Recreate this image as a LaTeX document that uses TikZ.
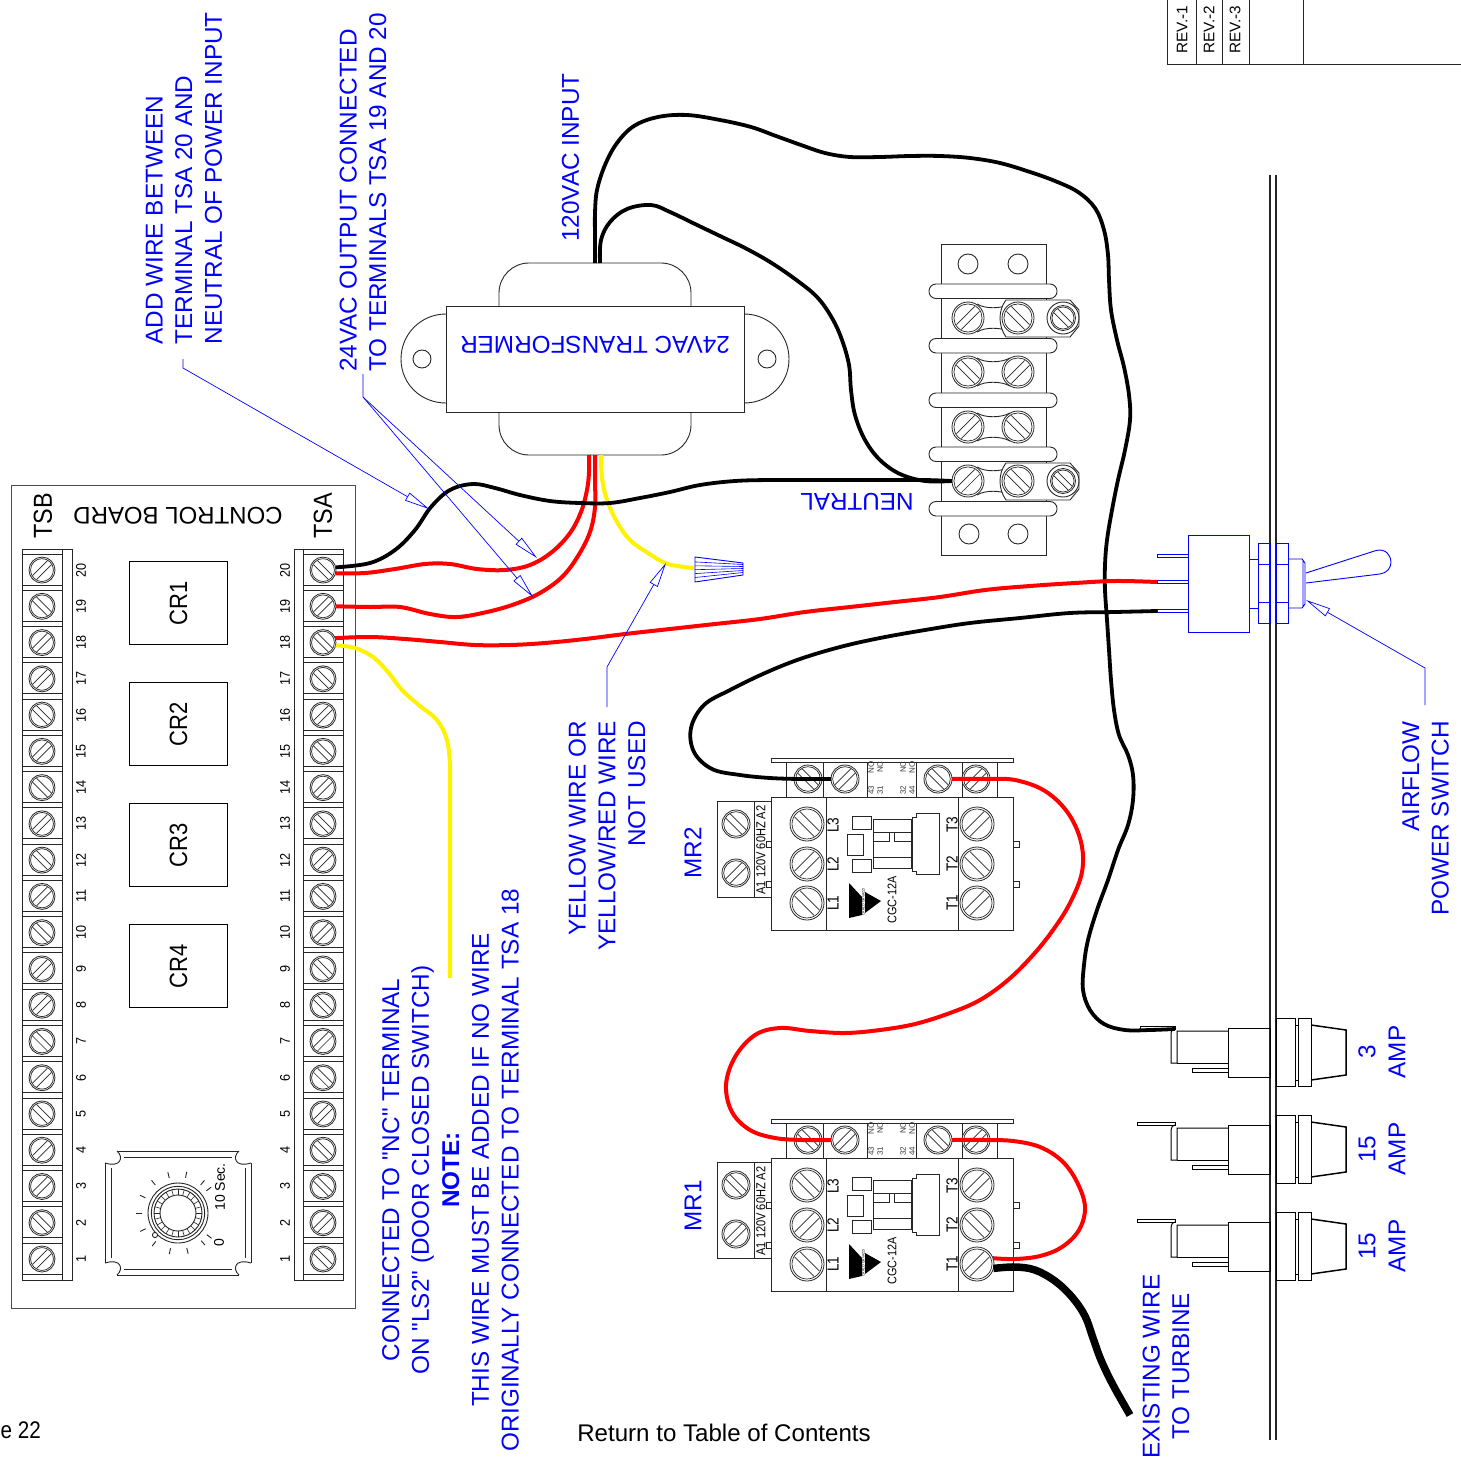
\documentclass[tikz,border=0pt]{standalone}
\usepackage{fontspec}
\setmainfont{Liberation Sans}[Ligatures=TeXOff]
\usetikzlibrary{arrows.meta}
\tikzset{
	part/.style={line width=0.9pt,black!85},
	screw/.style={circle,draw=black!85,line width=0.8pt,fill=white,inner sep=0pt,outer sep=0pt},
	bluelbl/.style={text=blue,inner sep=0pt,rotate=90,font=\fontsize{24.3}{29.7}\selectfont},
	blacklbl/.style={text=black,inner sep=0pt,rotate=90,font=\fontsize{#1}{#1}\selectfont},
	wireblack/.style={line width=3.8pt,black},
	wirered/.style={line width=4pt,red},
	wireyellow/.style={line width=4pt,yellow},
	leader/.style={blue,line width=0.7pt,-{Triangle[open,length=25pt,width=9pt]}},
	bluepart/.style={blue,line width=0.9pt}
}
\newcommand{\cond}[2]{\scalebox{#1}[1]{#2}}
\newcommand{\screwhead}[4]{
	\node[screw,minimum size=2*#3pt] (#1) at #2 {};
	\begin{scope}[shift={#2},rotate=#4]
		\draw[line width=0.7pt,black!85] (0,0) circle ({0.88*#3});
		\draw[line width=0.7pt,black!85] ({-0.8*#3},{0.22*#3}) -- ({0.8*#3},{0.22*#3});
		\draw[line width=0.7pt,black!85] ({-0.8*#3},{-0.22*#3}) -- ({0.8*#3},{-0.22*#3});
	\end{scope}
}
\begin{document}
\begin{tikzpicture}[x=1pt,y=-1pt]
	\useasboundingbox (0,0) rectangle (1461,1458);

	\draw[part] (1167,0) -- (1167,64) -- (1461,64);
	\foreach \x in {1196,1222,1249,1303} {
		\draw[part] (\x,0) -- (\x,64);
	}
	\foreach \x/\rev in {1182/1,1209/2,1235/3} {
		\node[blacklbl=15.3,anchor=west] (rev\rev) at (\x,54) {REV.-\rev};
	}

	\draw[line width=1pt,black!70] (11,485) rectangle (355,1308);
	\node[text=black,inner sep=0pt,rotate=180,font=\fontsize{24}{24}\selectfont] (board) at (178,516) {CONTROL BOARD};
	\node[blacklbl=26] (tsb) at (43,516) {\cond{.9}{TSB}};
	\node[blacklbl=26] (tsa) at (323,516) {\cond{.9}{TSA}};
	\draw[part] (22,549) rectangle (72,1280) (62,549) -- (62,1280);
	\draw[part] (294,549) rectangle (343,1280) (303,549) -- (303,1280);
	\foreach \n/\angb/\anga in {1/45/-45,2/-45/45,3/45/-45,4/45/-45,5/-45/45,6/45/-45,7/-45/45,8/45/-45,9/45/-45,10/-45/45,11/45/-45,12/-45/45,13/45/-45,14/-45/45,15/45/-45,16/-45/45,17/45/-45,18/45/-45,19/-45/45,20/45/-45} {
		\pgfmathsetmacro{\yy}{1259-(\n-1)*36.26}
		\draw[part] (22,\yy-16) -- (62,\yy-16) (22,\yy+15) -- (62,\yy+15);
		\draw[part] (303,\yy-16) -- (343,\yy-16) (303,\yy+15) -- (343,\yy+15);
		\screwhead{tsb\n}{(42,\yy)}{13}{\angb}
		\screwhead{tsa\n}{(323,\yy)}{13}{\anga}
		\node[blacklbl=14] (numb\n) at (81,\yy) {\cond{.9}{\n}};
		\node[blacklbl=14] (numa\n) at (285,\yy) {\cond{.9}{\n}};
	}
	\foreach \n/\yy in {1/561,2/682,3/803,4/924} {
		\node[draw=black,line width=1.2pt,minimum width=98pt,minimum height=83pt,inner sep=0pt,anchor=north west] (cr\n) at (129,\yy) {};
		\node[blacklbl=25] (crlbl\n) at (cr\n) {\cond{.88}{CR\n}};
	}

	\begin{scope}[shift={(178,1213)}]
		\foreach \sx/\sy in {1/1,-1/1,1/-1,-1/-1} {
			\begin{scope}[xscale=\sx,yscale=\sy]
				\draw[part] (61,-62) .. controls (54,-56) and (57,-45) .. (73,-50);
				\draw[part] (0,-62) -- (61,-62) (0,-56) -- (54,-56);
				\draw[part] (73,0) -- (73,-50) (67,0) -- (67,-45);
			\end{scope}
		}
		\draw[part] (0,0) circle (30) (0,0) circle (26.7) (0,0) circle (24) (0,0) circle (18);
		\foreach \a in {0,15,...,345} {
			\draw[line width=0.6pt,black!85] (\a:18) -- (\a:24);
		}
		\foreach \a in {38,51,78,104,129,155,180,206,232,258,284,310,323} {
			\draw[part] (-\a:36) -- (-\a:42);
		}
		\draw[part,fill=white] (-23,22) circle (2.6);
	\end{scope}
	\node[blacklbl=14] (tensec) at (220,1187) {10 Sec.};
	\node[blacklbl=14] (zero) at (219,1243) {0};

	\draw[part,rounded corners=30pt] (499,306) -- (499,263) -- (691,263) -- (691,306);
	\draw[part,rounded corners=30pt] (499,412) -- (499,455) -- (691,455) -- (691,412);
	\draw[part] (744,314) .. controls (769,314) and (789,334) .. (789,359) .. controls (789,384) and (769,403) .. (744,403);
	\draw[part] (446,314) .. controls (421,314) and (401,334) .. (401,359) .. controls (401,384) and (421,403) .. (446,403);
	\node[draw=black!85,line width=0.9pt,minimum width=298pt,minimum height=106pt,inner sep=0pt] (xfmr) at (595,359) {};
	\node[text=blue,inner sep=0pt,rotate=180,font=\fontsize{24.3}{24.3}\selectfont] (xfmrlbl) at (595,345) {24VAC TRANSFORMER};
	\draw[part] (422,359) circle (9) (767,359) circle (9);
	\coordinate (linea) at (595,263);
	\coordinate (lineb) at (600,263);
	\coordinate (seca) at (589,455);
	\coordinate (secb) at (595,455);
	\coordinate (secc) at (601,455);

	\draw[part] (941,244) rectangle (1046,555);
	\draw[part] (968,264) circle (10) (1018,264) circle (10) (969,534) circle (10) (1018,534) circle (10);
	\foreach \r/\yy/\anga/\angb in {1/318/45/-45,2/372/-45/45,3/427/45/-45,4/481/45/-45} {
		\draw[part] (977,\yy-14) .. controls (985,\yy-9) and (1001,\yy-9) .. (1010,\yy-14);
		\draw[part] (977,\yy+14) .. controls (985,\yy+9) and (1001,\yy+9) .. (1010,\yy+14);
		\screwhead{term\r a}{(968,\yy)}{16}{\anga}
		\ifnum\r=2\else\ifnum\r=3\else
			\draw[part,fill=white] (1006,\yy-18) -- (1070,\yy-18) -- (1079,\yy-8) -- (1079,\yy+8) -- (1070,\yy+19) -- (1006,\yy+19) .. controls (998,\yy+8) and (998,\yy-8) .. cycle;
			\draw[part] (1063,\yy) circle (16);
			\screwhead{lug\r}{(1063,\yy)}{12.5}{-45}
		\fi\fi
		\screwhead{term\r b}{(1018,\yy)}{16}{\angb}
	}
	\foreach \yy in {284,338.5,393,447,501.5} {
		\draw[part,fill=white,rounded corners=7pt] (929,\yy) rectangle (1057,\yy+14.5);
	}
	\node[text=blue,inner sep=0pt,rotate=180,font=\fontsize{24.3}{24.3}\selectfont] (neutral) at (857,502) {NEUTRAL};

	\foreach \mr/\dy in {MR2/0,MR1/361} {
		\begin{scope}[shift={(0,\dy)}]
			\draw[part,fill=white] (771,758) rectangle (1013,762);
			\draw[part] (771,797) rectangle (1013,930);
			\draw[part] (826,797) -- (826,930) (958,797) -- (958,930);
			\foreach \x in {786,823,867,916,962,997} {
				\draw[part] (\x,762) -- (\x,797);
			}
			\draw[part] (771,801) -- (717,801) -- (717,897) -- (771,897) (754,801) -- (754,897);
			\foreach \yy in {841,881} {
				\draw[part] (766,\yy) rectangle (771,\yy+6);
				\draw[part] (1013,\yy) rectangle (1019,\yy+6);
			}
			\screwhead{\mr ca}{(736,824)}{14}{-45}
			\screwhead{\mr cb}{(736,873)}{14}{45}
			\screwhead{\mr l3}{(807,824)}{17}{-45}
			\screwhead{\mr l2}{(807,864)}{17}{45}
			\screwhead{\mr l1}{(807,903)}{17}{-45}
			\screwhead{\mr t3}{(977,824)}{17}{45}
			\screwhead{\mr t2}{(977,864)}{17}{-45}
			\screwhead{\mr t1}{(977,903)}{17}{45}
			\screwhead{\mr aa}{(808,779)}{14}{-45}
			\screwhead{\mr ab}{(845,779)}{14}{45}
			\screwhead{\mr ac}{(938,779)}{14}{-45}
			\screwhead{\mr ad}{(976,779)}{14}{45}
			\foreach \lbl/\x/\yy in {L3/833/825,L2/833/864,L1/833/903,T3/952/825,T2/952/864,T1/952/903} {
				\node[blacklbl=16] (\mr\lbl) at (\x,\yy) {\cond{.85}{\lbl}};
			}
			\foreach \lbl/\x/\yy in {NO/871/767,NC/880/767,43/871/790,31/880/790,NC/903/767,NO/912/767,32/903/790,44/912/790} {
				\node[blacklbl=8,text=black!75] at (\x,\yy) {\lbl};
			}
			\node[blacklbl=13] (\mr coil) at (761,850) {\cond{.85}{A1 120V 60HZ A2}};
			\node[blacklbl=12.5] (\mr type) at (892,900) {\cond{.87}{CGC-12A}};
			\node[blacklbl=3.5] (\mr maker) at (863.5,902) {CARLO GAVAZZI};
			\draw[part] (852,816) rectangle (871,829) (847,834) rectangle (863,855) (852,859) rectangle (871,872);
			\draw[part] (873,819) rectangle (911,868) (873,832) -- (911,832) (873,857) -- (911,857);
			\draw[part] (873,841) -- (889,841) -- (889,832) (911,841) -- (894,841) -- (894,832);
			\draw[part] (916,813) -- (939,813) -- (939,874) -- (916,874) -- (916,871) -- (912,871) -- (912,817) -- (916,817) -- cycle;
			\fill[black] (849,883) -- (862,897) -- (862,915) -- (849,918) -- cycle;
			\fill[black] (865,892) -- (881,901) -- (865,913) -- cycle;
		\end{scope}
	}
	\node[bluelbl] (mrtwo) at (693,853) {MR2};
	\node[bluelbl] (mrone) at (693,1206) {MR1};

	\draw[line width=1.3pt,black!85] (1270,175) -- (1270,1440) (1276,175) -- (1276,1440);

	\foreach \f/\c/\amp in {a/1052/3,b/1149/15,c/1246/15} {
		\begin{scope}[shift={(0,\c)},line width=1pt]
			\draw[black] (1228,-24) rectangle (1270,25);
			\draw[black] (1228,-21) -- (1177,-21) -- (1177,11) -- (1171,11) -- (1171,-19) .. controls (1171,-22) and (1173,-24) .. (1175,-24);
			\draw[black] (1177,11) -- (1228,11);
			\draw[black] (1192,16) rectangle (1228,20);
			\draw[black] (1276,-34) rectangle (1295,34) (1298,-34) rectangle (1311,34);
			\draw[black] (1295,-27) -- (1298,-27) (1295,28) -- (1298,28);
			\draw[black,line width=1.5pt] (1311,-27) -- (1346,-22) -- (1346,23) -- (1311,28);
			\coordinate (fuse\f) at (1175,-23);
		\end{scope}
		\node[bluelbl] (amp\f) at (1367,\c) {\amp};
		\node[bluelbl] (unit\f) at (1397,\c) {AMP};
	}
	\foreach \c in {1149,1246} {
		\draw[black,line width=1pt] (1137,\c-27) rectangle (1175,\c-24);
	}
	\draw[black,line width=1pt] (1140,1026) rectangle (1175,1029);

	\draw[bluepart] (1188,535) rectangle (1249,632);
	\foreach \yy in {554,580,609} {
		\draw[bluepart] (1157,\yy) rectangle (1188,\yy+3.5);
	}
	\coordinate (swred) at (1157,582);
	\coordinate (swblack) at (1157,611);
	\draw[bluepart] (1249,559) -- (1258,559) (1249,608) -- (1258,608);
	\draw[bluepart] (1258,543) rectangle (1270,623) (1276,543) rectangle (1288,623);
	\draw[bluepart] (1258,564) -- (1270,564) (1276,564) -- (1288,564) (1258,602) -- (1270,602) (1276,602) -- (1288,602);
	\draw[bluepart] (1288,559) -- (1302,559) -- (1305,563) -- (1305,604) -- (1302,608) -- (1288,608) (1303,561) -- (1303,606);
	\draw[bluepart] (1306,573) -- (1376,550.5) .. controls (1386,548) and (1391,556) .. (1391,562) .. controls (1391,568) and (1387,573) .. (1380,574) -- (1306,583);

	\draw[wireyellow] plot[smooth,tension=.6] coordinates {(secc) (602,478) (607,500) (617,522) (630,540) (648,553) (668,564) (694,568)};
	\draw[bluepart,fill=white] (695,557) -- (743,563) -- (743,575) -- (695,582) -- cycle;
	\foreach \i in {1,...,5} {
		\draw[blue,line width=0.6pt] (695,{558+3.9*\i}) -- (743,{562.5+2*\i});
	}
	\draw[wirered] plot[smooth,tension=.6] coordinates {(tsa20.-15) (365,573) (395,569) (425,564) (450,564) (477,569) (505,570) (530,565) (552,552) (570,533) (581,512) (587,490) (589,472) (seca)};
	\draw[wirered] plot[smooth,tension=.6] coordinates {(tsa19.east) (370,607) (400,607) (430,614) (457,617) (487,612) (515,604) (540,593) (562,577) (578,556) (590,532) (595,507) (595,480) (secb)};
	\draw[wireblack] plot[smooth,tension=.6] coordinates {(term4a.west) (925,480) (890,480) (850,480) (810,480) (770,480) (735,481) (700,485) (670,492) (640,498) (610,503) (580,503) (550,501) (520,495) (495,488) (473,484) (450,490) (431,507) (415,530) (395,550) (370,563) (tsa20.12)};
	\draw[wireblack] plot[smooth,tension=.6] coordinates {(lineb) (601,240) (610,222) (627,209) (651,205) (670,212) (695,224) (720,236) (745,248) (770,262) (795,279) (817,297) (832,318) (842,340) (849,365) (851,390) (855,415) (865,440) (880,460) (900,474) (925,481) (term4a.west)};
	\draw[wireblack] plot[smooth,tension=.6] coordinates {(linea) (595,238) (595,213) (597,190) (605,165) (617,143) (634,126) (658,117) (687,115) (720,120) (751,127) (776,136) (801,145) (825,153) (850,157) (880,157) (910,156) (940,156) (970,158) (1000,163) (1030,172) (1055,181) (1078,192) (1095,208) (1104,230) (1108,255) (1109,280) (1111,310) (1117,340) (1124,367) (1129,395) (1130,420) (1125,450) (1118,480) (1112,510) (1107,540) (1105,565) (1105,590) (1107,620) (1109,650) (1111,680) (1114,710) (1119,735) (1128,755) (1133,775) (1133,800) (1128,825) (1118,850) (1108,880) (1097,910) (1088,940) (1084,965) (1083,990) (1090,1010) (1104,1024) (1125,1030) (1150,1030) (fusea)};
	\draw[wireblack] plot[smooth,tension=.6] coordinates {(swblack) (1115,612) (1070,613) (1020,618) (970,623) (925,630) (880,638) (840,647) (800,659) (765,673) (730,690) (704,705) (691,728) (694,752) (712,769) (740,775) (770,778) (800,779) (MR2ab.west)};
	\draw[wirered] plot[smooth,tension=.6] coordinates {(tsa18.20) (370,637) (405,639) (440,642) (475,645) (510,645) (545,643) (585,639) (625,634) (670,629) (715,624) (760,619) (805,612) (850,607) (895,602) (940,597) (985,590) (1030,586) (1075,583) (1115,581) (swred)};
	\coordinate (yelend) at (450,978);
	\draw[wireyellow] plot[smooth,tension=.6] coordinates {(tsa18.-12) (355,648) (373,657) (388,672) (402,690) (420,706) (437,720) (447,740) (450,765)} -- (yelend);
	\draw[wirered] plot[smooth,tension=.6] coordinates {(MR2ac.east) (985,779) (1015,780) (1045,791) (1068,813) (1081,842) (1082,872) (1070,903) (1053,930) (1033,955) (1008,980) (980,1000) (950,1013) (915,1024) (880,1030) (845,1033) (810,1031) (780,1028) (755,1035) (735,1057) (726,1085) (732,1112) (750,1130) (775,1138) (803,1140) (MR1ab.west)};
	\draw[wirered] plot[smooth,tension=.6] coordinates {(MR1ac.east) (985,1140) (1013,1141) (1040,1147) (1062,1161) (1077,1182) (1085,1207) (1079,1230) (1062,1247) (1040,1256) (1015,1259) (MR1t1.20)};
	\coordinate (turbine) at (1130,1415);
	\draw[line width=7.5pt,black] plot[smooth,tension=.6] coordinates {(MR1t1.-15) (1015,1267) (1035,1270) (1055,1281) (1072,1297) (1085,1316) (1093,1338) (1101,1360) (1113,1385) (turbine)};

	\node[bluelbl,anchor=west,align=left] (addwire) at (184,344.5) {ADD WIRE BETWEEN\\TERMINAL TSA 20 AND\\NEUTRAL OF POWER INPUT};
	\node[bluelbl,anchor=west,align=left] (output) at (363,372) {24VAC OUTPUT CONNECTED\\TO TERMINALS TSA 19 AND 20};
	\node[bluelbl,anchor=west] (input) at (570.5,242) {120VAC INPUT};
	\node[bluelbl,align=center] (nclbl) at (408,1170) {CONNECTED TO "NC" TERMINAL\\ON "LS2" (DOOR CLOSED SWITCH)};
	\node[bluelbl,align=center] (notelbl) at (480.5,1170) {\textbf{NOTE:}\\THIS WIRE MUST BE ADDED IF NO WIRE\\ORIGINALLY CONNECTED TO TERMINAL TSA 18};
	\node[bluelbl,anchor=east,align=right] (unused) at (607,721) {YELLOW WIRE OR\\YELLOW/RED WIRE\\NOT USED};
	\node[bluelbl,anchor=east,align=right] (airflow) at (1425.5,721) {AIRFLOW\\POWER SWITCH};
	\node[bluelbl,align=center] (existing) at (1166,1366.5) {EXISTING WIRE\\TO TURBINE};

	\coordinate (addtip) at (429,509);
	\coordinate (outtipa) at (537,558);
	\coordinate (outtipb) at (533,597);
	\coordinate (unusedtip) at (666,563);
	\coordinate (airtip) at (1306,600);
	\draw[leader] (183,359) -- (183,368) -- (addtip);
	\draw[leader] (363,374) -- (363,397) -- (outtipa);
	\draw[leader] (363,397) -- (outtipb);
	\draw[leader] (607,707) -- (607,667) -- (unusedtip);
	\draw[leader] (1425,705) -- (1425,668) -- (airtip);

	\node[inner sep=0pt,anchor=east,font=\fontsize{24}{24}\selectfont] (pagelbl) at (41,1430) {\cond{.86}{e 22}};
	\node[inner sep=0pt,font=\fontsize{24.1}{24.1}\selectfont] (contents) at (724,1433) {Return to Table of Contents};
\end{tikzpicture}
\end{document}
